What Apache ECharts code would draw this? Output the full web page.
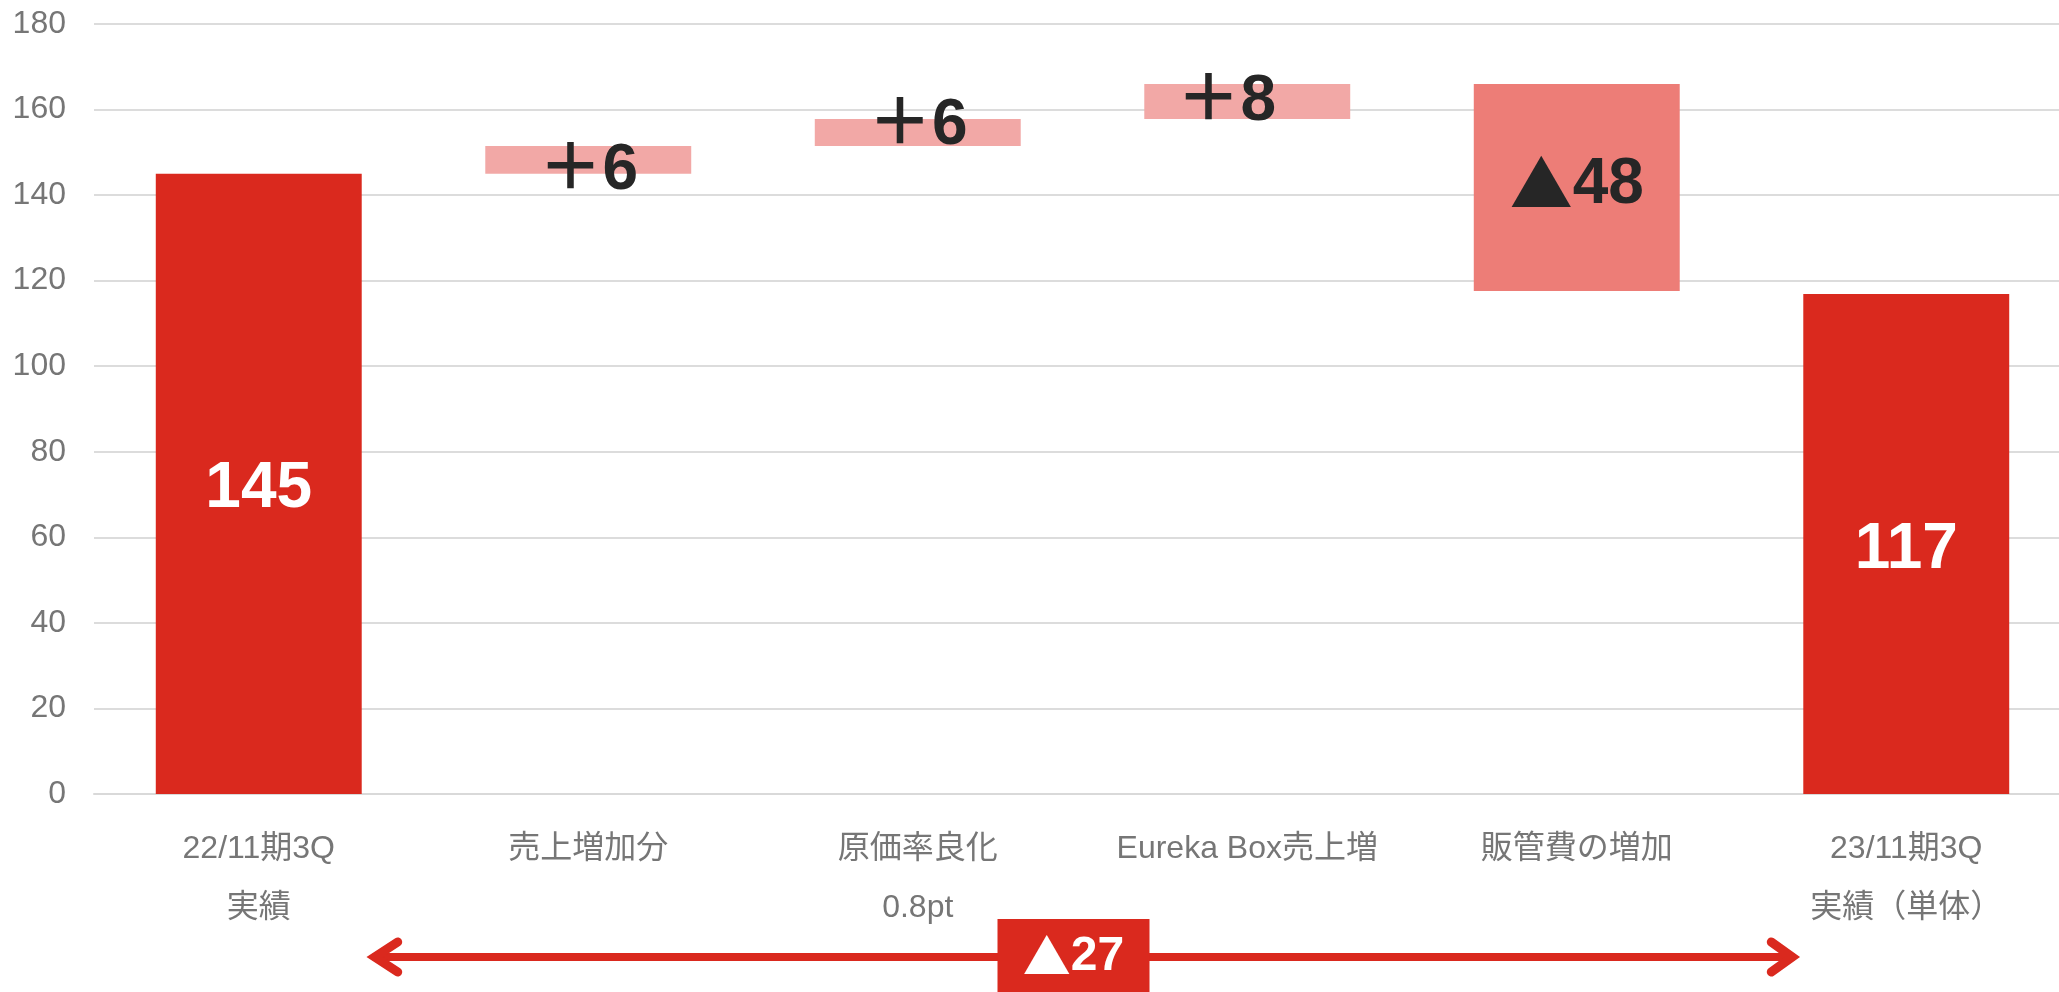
<!DOCTYPE html>
<html>
<head>
<meta charset="utf-8">
<script src="https://cdn.jsdelivr.net/npm/echarts@6/dist/echarts.min.js"></script>
<style>
  html, body { margin: 0; padding: 0; background: #fff; overflow: hidden; }
  #chart { width: 2072px; height: 992px; }
</style>
</head>
<body>
<div id="chart"></div>
<script>
  // categories (x axis)
  const categories = ['22/11期3Q\n実績', '売上増加分', '原価率良化\n0.8pt', 'Eureka Box売上増', '販管費の増加', '23/11期3Q\n実績（単体）']
  // start / end totals and the steps between them
  const startValue = 145
  const changes = [6.5, 6.3, 8.2, -48.4]
  const endValue = 116.9
  // texts written on the bars
  const barLabels = ['145', '＋6', '＋6', '＋8', '{t|▲}48', '117']
  const totalChangeLabel = '{t|▲}27'
  // y axis ticks
  const yMin = 0
  const yMax = 180
  const yStep = 20

  const RED = '#da291e'
  const PINK = '#f2a8a6'
  const SALMON = '#ed7d77'
  const barColors = [RED, PINK, PINK, PINK, SALMON, RED]
  const labelOffsets = [[0, 5], [0, 12], [0, -6], [-21, 1], [0, -2], [0, 6]]
  const labelColors = ['#fff', '#262626', '#262626', '#262626', '#262626', '#fff']

  // build waterfall: invisible base + visible step
  const bases = [0]
  const heights = [startValue]
  let level = startValue
  changes.forEach(c => {
    const next = level + c
    bases.push(Math.min(level, next))
    heights.push(Math.abs(c))
    level = next
  })
  bases.push(0)
  heights.push(endValue)

  const chart = echarts.init(document.getElementById('chart'))
  const font = '"Liberation Sans", "Noto Sans CJK JP", sans-serif'
  const cjk = '"Noto Sans CJK JP", sans-serif'

  chart.setOption({
    animation: false,
    grid: { left: 94, top: 24, width: 1977, height: 770 },
    xAxis: {
      type: 'category',
      data: categories,
      axisTick: { show: false },
      axisLine: { lineStyle: { color: '#d9d9d9', width: 2 } },
      axisLabel: {
        interval: 0,
        fontSize: 32,
        lineHeight: 59,
        margin: 26,
        color: '#767676',
        fontFamily: font
      }
    },
    yAxis: {
      type: 'value',
      min: yMin,
      max: yMax,
      interval: yStep,
      axisLine: { show: false },
      axisTick: { show: false },
      splitLine: { lineStyle: { color: '#dcdcdc', width: 2 } },
      axisLabel: { fontSize: 32, margin: 28, color: '#767676', fontFamily: font }
    },
    series: [
      {
        type: 'bar',
        stack: 'w',
        silent: true,
        barWidth: '62.5%',
        itemStyle: { color: 'transparent' },
        data: bases
      },
      {
        type: 'bar',
        stack: 'w',
        barWidth: '62.5%',
        data: heights.map((v, i) => ({
          value: v,
          itemStyle: { color: barColors[i] },
          label: {
            show: true,
            position: 'inside',
            formatter: barLabels[i],
            offset: labelOffsets[i],
            color: labelColors[i],
            fontSize: 64,
            fontWeight: 'bold',
            fontFamily: font,
            rich: {
              t: { fontSize: 63, fontFamily: cjk, color: labelColors[i], padding: [0, 0, 4, 0] }
            }
          }
        }))
      }
    ]
  })

  // double arrow under the axis with the total change box
  const x0 = chart.convertToPixel({ xAxisIndex: 0 }, 0)
  const x5 = chart.convertToPixel({ xAxisIndex: 0 }, 5)
  const halfBar = (x5 - x0) / 5 * 0.625 / 2
  const leftTip = x0 + halfBar + 3
  const rightTip = x5 - halfBar - 1
  const ay = chart.convertToPixel({ yAxisIndex: 0 }, 0) + 163
  const boxX = (leftTip + rightTip) / 2 - 10

  chart.setOption({
    graphic: [
      {
        type: 'line',
        shape: { x1: leftTip + 8, y1: ay, x2: rightTip - 8, y2: ay },
        style: { stroke: RED, lineWidth: 8 }
      },
      {
        type: 'polyline',
        shape: { points: [[leftTip + 33, ay - 15], [leftTip + 10, ay], [leftTip + 33, ay + 15]] },
        style: { stroke: RED, lineWidth: 9, lineCap: 'round', lineJoin: 'miter', fill: null }
      },
      {
        type: 'polyline',
        shape: { points: [[rightTip - 31, ay - 15], [rightTip - 10, ay], [rightTip - 31, ay + 15]] },
        style: { stroke: RED, lineWidth: 9, lineCap: 'round', lineJoin: 'miter', fill: null }
      },
      {
        type: 'rect',
        shape: { x: boxX - 76, y: ay - 38, width: 152, height: 76 },
        style: { fill: RED }
      },
      {
        type: 'text',
        x: boxX,
        y: ay,
        style: {
          text: totalChangeLabel,
          fill: '#fff',
          fontSize: 48,
          fontWeight: 'bold',
          fontFamily: font,
          align: 'center',
          verticalAlign: 'middle',
          rich: {
            t: { fontSize: 48, fontFamily: cjk, fill: '#fff', padding: [0, 0, 3, 0] }
          }
        }
      }
    ]
  })
</script>
</body>
</html>
